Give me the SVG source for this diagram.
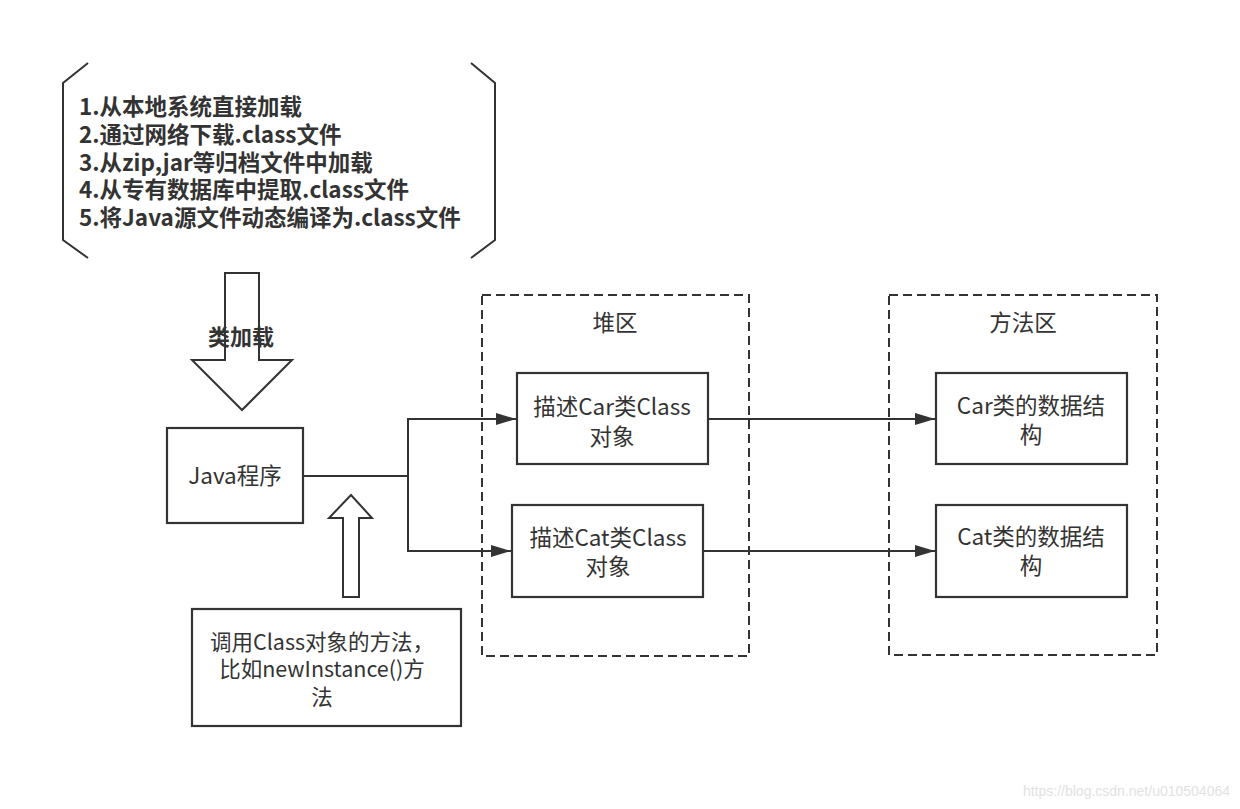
<svg xmlns="http://www.w3.org/2000/svg" width="1240" height="809" viewBox="0 0 1240 809">
<defs>
<style>
.ln{fill:none;stroke:#333;stroke-width:2}
.box{fill:#fff;stroke:#333;stroke-width:2.2}
.dash{fill:none;stroke:#333;stroke-width:2;stroke-dasharray:9 5}
.t{font-family:"Noto Sans CJK SC","Noto Sans",sans-serif;font-size:22.5px;fill:#333;text-anchor:middle}
.b{font-family:"Noto Sans CJK SC","Noto Sans",sans-serif;font-size:22.5px;font-weight:bold;fill:#333}
</style>
<marker id="ah" viewBox="0 0 20 12" refX="20" refY="6" markerWidth="20" markerHeight="12" markerUnits="userSpaceOnUse" orient="auto">
<path d="M0,0 L20,6 L0,12 Z" fill="#333"/>
</marker>
</defs>
<rect width="1240" height="809" fill="#fff"/>

<g id="sources">
<path class="ln" d="M88,63 L63,83 L63,240 L88,258"/>
<path class="ln" d="M471,63 L495,83 L495,240 L471,258"/>
<text class="b" x="79" y="115">1.从本地系统直接加载</text>
<text class="b" x="79" y="143">2.通过网络下载.class文件</text>
<text class="b" x="79" y="171">3.从zip,jar等归档文件中加载</text>
<text class="b" x="79" y="198">4.从专有数据库中提取.class文件</text>
<text class="b" x="79" y="226">5.将Java源文件动态编译为.class文件</text>
</g>

<g id="classload-arrow">
<path class="ln" d="M225,273 L259,273 L259,360 L292,360 L242,410 L192,360 L225,360 Z" fill="#fff"/>
<text class="t" x="241" y="345" style="font-size:22px;font-weight:bold">类加载</text>
</g>

<g id="java-program">
<rect class="box" x="167" y="428" width="136" height="95"/>
<text class="t" x="235" y="484">Java程序</text>
</g>

<g id="call-arrow">
<path class="ln" d="M343,597 L343,518 L329,518 L351,495 L372,518 L359,518 L359,597 Z" fill="#fff"/>
</g>

<g id="call-method">
<rect class="box" x="192" y="609" width="269" height="117"/>
<text class="t" x="322" y="650" style="font-size:21.5px">调用Class对象的方法，</text>
<text class="t" x="322" y="677" style="font-size:21.5px">比如newInstance()方</text>
<text class="t" x="322" y="705" style="font-size:21.5px">法</text>
</g>

<g id="heap">
<rect class="dash" x="482" y="295" width="267" height="361"/>
<text class="t" x="615" y="331">堆区</text>
</g>

<g id="method-area">
<rect class="dash" x="889" y="295" width="268" height="360"/>
<text class="t" x="1023" y="331">方法区</text>
</g>

<g id="car-class">
<rect class="box" x="517" y="373" width="191" height="91"/>
<text class="t" x="612" y="415">描述Car类Class</text>
<text class="t" x="612" y="445">对象</text>
</g>

<g id="cat-class">
<rect class="box" x="512" y="505" width="191" height="92"/>
<text class="t" x="608" y="546">描述Cat类Class</text>
<text class="t" x="608" y="575">对象</text>
</g>

<g id="car-data">
<rect class="box" x="936" y="373" width="191" height="91"/>
<text class="t" x="1031" y="414">Car类的数据结</text>
<text class="t" x="1031" y="443">构</text>
</g>

<g id="cat-data">
<rect class="box" x="936" y="505" width="191" height="92"/>
<text class="t" x="1031" y="545">Cat类的数据结</text>
<text class="t" x="1031" y="574">构</text>
</g>

<g id="connectors">
<path class="ln" d="M303,476 L408,476"/>
<path class="ln" d="M408,476 L408,419 L516,419" marker-end="url(#ah)"/>
<path class="ln" d="M408,476 L408,551 L511,551" marker-end="url(#ah)"/>
<path class="ln" d="M708,419 L935,419" marker-end="url(#ah)"/>
<path class="ln" d="M703,551 L935,551" marker-end="url(#ah)"/>
</g>

<text x="1230" y="796" style="font-family:'Liberation Sans',sans-serif;font-size:14px;fill:#e2e2e2;text-anchor:end">https://blog.csdn.net/u010504064</text>
</svg>
